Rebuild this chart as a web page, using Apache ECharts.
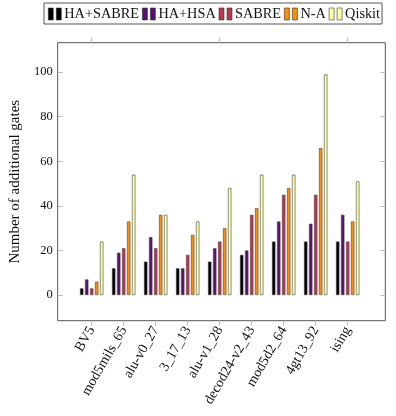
<!DOCTYPE html>
<html>
<head>
<meta charset="utf-8">
<script src="https://cdn.jsdelivr.net/npm/echarts@6/dist/echarts.min.js"></script>
<style>html,body{margin:0;padding:0;background:#fff;}#c{width:396px;height:416px;}</style>
</head>
<body>
<div id="c"></div>
<script>
const categories = ['BV5','mod5mils_65','alu-v0_27','3_17_13','alu-v1_28','decod24-v2_43','mod5d2_64','4gt13_92','ising'];
const seriesNames = ['HA+SABRE','HA+HSA','SABRE','N-A','Qiskit'];
const haSabre = [3,12,15,12,15,18,24,24,24];
const haHsa   = [7,19,26,12,21,20,33,32,36];
const sabre   = [3,21,21,18,24,36,45,45,24];
const na      = [6,33,36,27,30,39,48,66,33];
const qiskit  = [24,54,36,33,48,54,54,99,51];
const yTicks = [0,20,40,60,80,100];
const colors = ['#000004','#57106e','#bc3754','#f98e09','#fcffa4'];

const FONT = 'Liberation Serif';
const yMin = -11.5, yMax = 113.2;
const L = 53.3, T = 42.7, W = 332, H = 278;
const bandW = 32;
const innerLeft = 91.7 - bandW / 2;

const chart = echarts.init(document.getElementById('c'), null, {renderer: 'canvas'});
const allData = [haSabre, haHsa, sabre, na, qiskit];
const icon = 'path://M0,0H5V12H0Z M8,0H13V12H8Z';

chart.setOption({
  animation: false,
  backgroundColor: '#fff',
  legend: {
    left: 44, top: 3,
    padding: [4, 2, 3, 4],
    borderColor: '#555', borderWidth: 1,
    itemWidth: 13, itemHeight: 12, itemGap: 3,
    icon: icon,
    textStyle: {fontFamily: FONT, fontSize: 14.3, color: '#111', padding: [0,0,0,-2]},
    data: seriesNames.map((n, i) => ({name: n, itemStyle: {color: colors[i], borderColor: '#333', borderWidth: 0.6}}))
  },
  grid: [
    {left: L, top: T, width: W, height: H, show: true, borderColor: '#555', borderWidth: 1, containLabel: false},
    {left: innerLeft, top: T, width: bandW * categories.length, height: H, containLabel: false}
  ],
  xAxis: [
    {gridIndex: 0, type: 'value', min: 0, max: 1, show: false},
    {gridIndex: 1, type: 'category', data: categories, position: 'bottom',
      axisLine: {show: false, onZero: false},
      axisTick: {show: true, alignWithLabel: true, length: 5, inside: false, lineStyle: {color: '#bbb'}},
      axisLabel: {rotate: 60, margin: 7, fontFamily: FONT, fontSize: 14, color: '#111'}},
    {gridIndex: 1, type: 'category', data: categories, position: 'top',
      axisLine: {show: false, onZero: false},
      axisTick: {show: true, alignWithLabel: true, length: 5, inside: false, lineStyle: {color: '#bbb'}},
      axisLabel: {show: false}}
  ],
  yAxis: [
    {gridIndex: 0, type: 'value', min: yMin, max: yMax, position: 'left',
      name: 'Number of additional gates', nameLocation: 'middle', nameGap: 34,
      nameTextStyle: {fontFamily: FONT, fontSize: 15, color: '#111'},
      axisLine: {show: false, onZero: false}, splitLine: {show: false},
      axisTick: {show: true, inside: true, length: 5, customValues: yTicks, lineStyle: {color: '#bbb'}},
      axisLabel: {customValues: yTicks, margin: 5, fontFamily: FONT, fontSize: 12.5, color: '#111'}},
    {gridIndex: 0, type: 'value', min: yMin, max: yMax, position: 'right',
      axisLine: {show: false, onZero: false}, splitLine: {show: false},
      axisTick: {show: true, inside: true, length: 5, customValues: yTicks, lineStyle: {color: '#bbb'}},
      axisLabel: {show: false}},
    {gridIndex: 1, type: 'value', min: yMin, max: yMax, show: false, splitLine: {show: false}}
  ],
  series: seriesNames.map((n, i) => ({
    name: n, type: 'bar', xAxisIndex: 1, yAxisIndex: 2,
    data: allData[i],
    barWidth: 3.4, barGap: '47%',
    itemStyle: {color: colors[i], borderColor: '#444', borderWidth: 0.6}
  }))
});
</script>
</body>
</html>
